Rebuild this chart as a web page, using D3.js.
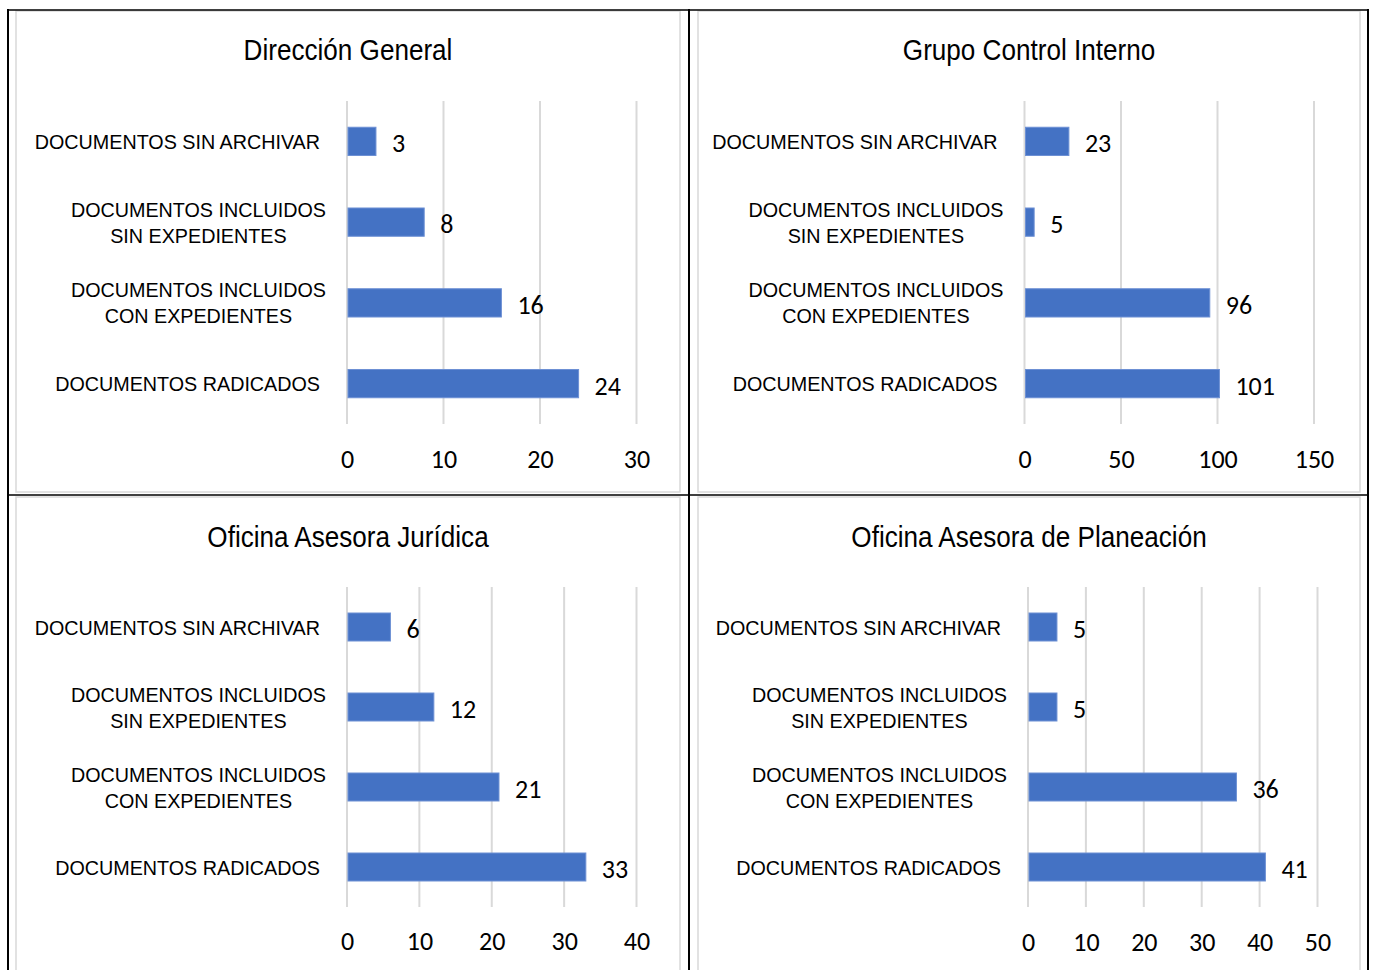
<!DOCTYPE html>
<html>
<head>
<meta charset="utf-8">
<script src="https://cdn.jsdelivr.net/npm/d3@7"></script>
<style>
  body { margin: 0; background: #fff; }
  .lbl { font-family: "Liberation Sans", Arial, sans-serif; fill: #000; }
  .num { font-family: Carlito, Calibri, Lato, "Open Sans", sans-serif; fill: #000; }
</style>
</head>
<body>
<script>
// categories, top to bottom ("\n" marks the line break)
const categories = [
  "DOCUMENTOS SIN ARCHIVAR",
  "DOCUMENTOS INCLUIDOS\nSIN EXPEDIENTES",
  "DOCUMENTOS INCLUIDOS\nCON EXPEDIENTES",
  "DOCUMENTOS RADICADOS"
]

const titles = [
  "Dirección General",
  "Grupo Control Interno",
  "Oficina Asesora Jurídica",
  "Oficina Asesora de Planeación"
]

// values per chart, same order as categories
const direccionGeneral = [3, 8, 16, 24]
const controlInterno = [23, 5, 96, 101]
const asesoraJuridica = [6, 12, 21, 33]
const asesoraPlaneacion = [5, 5, 36, 41]

// x axis ticks per chart
const ticksDireccion = [0, 10, 20, 30]
const ticksControl = [0, 50, 100, 150]
const ticksJuridica = [0, 10, 20, 30, 40]
const ticksPlaneacion = [0, 10, 20, 30, 40, 50]

const seriesList = [direccionGeneral, controlInterno, asesoraJuridica, asesoraPlaneacion]
const tickList = [ticksDireccion, ticksControl, ticksJuridica, ticksPlaneacion]

// layout of the four panels
var W = 1375, H = 970
var panels = [
  { x: 16, y: 11, w: 664, h: 481, left: 331, plotH: 323, titleY: 49, tickGap: 44 },
  { x: 698, y: 11, w: 662, h: 481, left: 326.5, plotH: 323, titleY: 49, tickGap: 44 },
  { x: 16, y: 497, w: 664, h: 490, left: 331, plotH: 320, titleY: 50, tickGap: 43 },
  { x: 698, y: 497, w: 662, h: 490, left: 330, plotH: 320, titleY: 50, tickGap: 44 }
]
var plotTop = 90
var plotW = 289.5
// Arial Narrow look: Arial squeezed sideways
var labelSqueeze = 0.94
var titleSqueeze = 0.9
var labelSize = 21
var lineGap = 26

var svg = d3.select("body")
  .append("svg")
  .attr("width", W)
  .attr("height", H)

// squeezed text helper: returns the inner text element
function narrowText(parent, x, y, size, anchor, squeeze) {
  return parent.append("g")
    .attr("transform", `translate(${x},${y}) scale(${squeeze},1)`)
    .append("text")
    .attr("class", "lbl")
    .attr("font-size", size + "px")
    .attr("text-anchor", anchor)
}

panels.forEach(function (p, i) {
  var values = seriesList[i]
  var ticks = tickList[i]

  var g = svg.append("g")
    .attr("transform", `translate(${p.x},${p.y})`)

  // panel frame
  g.append("rect")
    .attr("x", 0).attr("y", 0)
    .attr("width", p.w).attr("height", p.h)
    .attr("fill", "#fff")
    .attr("stroke", "#d9d9d9")
    .attr("stroke-width", 1.5)

  // title
  narrowText(g, p.w / 2, p.titleY, 29, "middle", titleSqueeze).text(titles[i])

  var xScale = d3.scaleLinear()
    .domain([0, ticks[ticks.length - 1]])
    .range([p.left, p.left + plotW])

  var yScale = d3.scaleBand()
    .domain(categories)
    .range([plotTop, plotTop + p.plotH])
    .paddingInner(0.65)
    .paddingOuter(0.325)

  // vertical gridlines
  g.selectAll("line.grid")
    .data(ticks)
    .enter()
    .append("line")
    .attr("class", "grid")
    .attr("x1", function (d) { return xScale(d) })
    .attr("x2", function (d) { return xScale(d) })
    .attr("y1", plotTop)
    .attr("y2", plotTop + p.plotH)
    .attr("stroke", "#d9d9d9")
    .attr("stroke-width", 2)

  // x axis tick labels
  var xAxis = d3.axisBottom(xScale)
    .tickValues(ticks)
    .tickSize(0)
    .tickPadding(0)

  var ax = g.append("g")
    .attr("transform", `translate(0,${plotTop + p.plotH + p.tickGap})`)
    .call(xAxis)
  ax.select(".domain").remove()
  ax.selectAll("text")
    .attr("class", "num")
    .attr("font-size", "26px")
    .attr("dy", 0)

  // bars
  g.selectAll("rect.bar")
    .data(values)
    .enter()
    .append("rect")
    .attr("class", "bar")
    .attr("x", xScale(0) + 1)
    .attr("y", function (d, j) { return yScale(categories[j]) })
    .attr("width", function (d) { return xScale(d) - xScale(0) - 1 })
    .attr("height", yScale.bandwidth())
    .attr("fill", "#4472c4")
    .attr("stroke", "#6d90d4")
    .attr("stroke-width", 1)

  // value labels
  g.selectAll("text.val")
    .data(values)
    .enter()
    .append("text")
    .attr("class", "num val")
    .attr("x", function (d) { return xScale(d) + 16 })
    .attr("y", function (d, j) { return yScale(categories[j]) + yScale.bandwidth() / 2 + 11 })
    .attr("font-size", "26px")
    .text(function (d) { return d })

  // category labels
  categories.forEach(function (c, j) {
    var lines = c.split("\n")
    var cy = yScale(c) + yScale.bandwidth() / 2
    if (lines.length === 1) {
      narrowText(g, xScale(0) - 27, cy, labelSize, "end", labelSqueeze)
        .attr("dy", "0.36em")
        .text(c)
    } else {
      // centred lines, block aligned to the right
      var tmp = g.append("text").attr("class", "lbl").attr("font-size", labelSize + "px").text(lines[0])
      var wid = tmp.node().getComputedTextLength() * labelSqueeze
      tmp.remove()
      var t = narrowText(g, xScale(0) - 21 - wid / 2, cy, labelSize, "middle", labelSqueeze)
      lines.forEach(function (ln, k) {
        t.append("tspan")
          .attr("x", 0)
          .attr("y", (k - (lines.length - 1) / 2) * lineGap)
          .attr("dy", "0.36em")
          .text(ln)
      })
    }
  })
})

// black table lines
var vLines = [8, 689, 1368]
var hLines = [10, 495]
svg.selectAll("line.v")
  .data(vLines)
  .enter()
  .append("line")
  .attr("x1", function (d) { return d }).attr("x2", function (d) { return d })
  .attr("y1", 9).attr("y2", H)
  .attr("stroke", "#000").attr("stroke-width", 2)
svg.selectAll("line.h")
  .data(hLines)
  .enter()
  .append("line")
  .attr("x1", 7).attr("x2", 1369)
  .attr("y1", function (d) { return d }).attr("y2", function (d) { return d })
  .attr("stroke", "#000").attr("stroke-width", 1.5)
</script>
</body>
</html>
